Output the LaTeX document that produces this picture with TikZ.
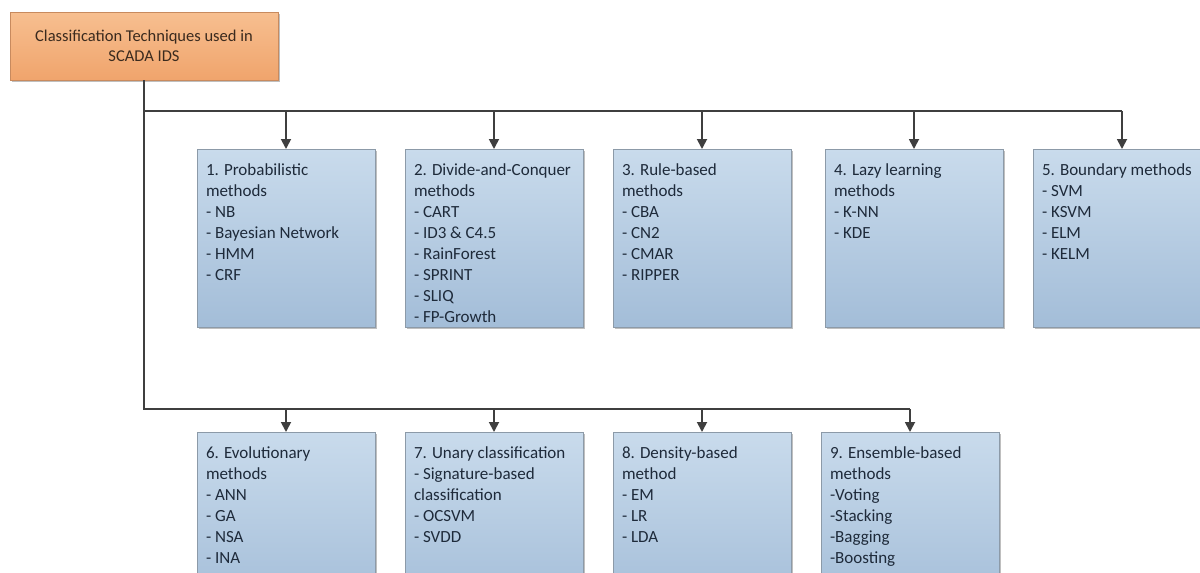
\documentclass[tikz,border=0pt]{standalone}
\usepackage{fontspec}
\setmainfont{Carlito}
\usetikzlibrary{shadows,arrows.meta}
\definecolor{boxtop}{HTML}{C9DBEC}
\definecolor{boxbot}{HTML}{A3BDD8}
\definecolor{boxline}{HTML}{8C9AA8}
\definecolor{roottop}{HTML}{F7BF90}
\definecolor{rootbot}{HTML}{F0A46C}
\definecolor{rootline}{HTML}{C88A5E}
\definecolor{roottext}{HTML}{3A2A1E}
\definecolor{boxtext}{HTML}{1E2A3A}
\definecolor{connc}{HTML}{3F3F3F}
\newcommand{\cellbox}[1]{\parbox[t][178pt][t]{160pt}{\vspace{12pt}\begin{tabular}[t]{@{}l@{}}#1\end{tabular}}}
\begin{document}
\begin{tikzpicture}[x=1pt,y=-1pt,
  catbox/.style={draw=boxline, line width=0.9pt, top color=boxtop, bottom color=boxbot,
    inner xsep=9pt, inner ysep=0pt, outer sep=0pt, anchor=north west,
    font=\fontsize{17}{21}\selectfont, text=boxtext,
    drop shadow={shadow xshift=2pt, shadow yshift=-2pt, opacity=0.25, fill=black}},
  rootbox/.style={draw=rootline, line width=0.9pt, top color=roottop, bottom color=rootbot,
    minimum width=268pt, minimum height=68pt, align=center, outer sep=0pt,
    font=\fontsize{16.5}{19.5}\selectfont, text=roottext,
    drop shadow={shadow xshift=2pt, shadow yshift=-2pt, opacity=0.25, fill=black}},
  conn/.style={draw=connc, line width=1.8pt},
  arr/.style={conn, -{Triangle[width=10pt,length=10pt]}}]
\useasboundingbox (0,0) rectangle (1200,573);
\fill[white] (0,0) rectangle (1200,573);

\node[rootbox] (root) at (144,46) {Classification Techniques used in\\SCADA IDS};

\node[catbox] (b1) at (197,149) {\cellbox{1. Probabilistic\\methods\\- NB\\- Bayesian Network\\- HMM\\- CRF}};
\node[catbox] (b2) at (405,149) {\cellbox{2. Divide-and-Conquer\\methods\\- CART\\- ID3 \& C4.5\\- RainForest\\- SPRINT\\- SLIQ\\- FP-Growth}};
\node[catbox] (b3) at (613,149) {\cellbox{3. Rule-based\\methods\\- CBA\\- CN2\\- CMAR\\- RIPPER}};
\node[catbox] (b4) at (825,149) {\cellbox{4. Lazy learning\\methods\\- K-NN\\- KDE}};
\node[catbox] (b5) at (1033,149) {\cellbox{5. Boundary methods\\- SVM\\- KSVM\\- ELM\\- KELM}};

\node[catbox] (b6) at (197,432) {\cellbox{6. Evolutionary\\methods\\- ANN\\- GA\\- NSA\\- INA}};
\node[catbox] (b7) at (405,432) {\cellbox{7. Unary classification\\- Signature-based\\classification\\- OCSVM\\- SVDD}};
\node[catbox] (b8) at (613,432) {\cellbox{8. Density-based\\method\\- EM\\- LR\\- LDA}};
\node[catbox] (b9) at (821,432) {\cellbox{9. Ensemble-based\\methods\\-Voting\\-Stacking\\-Bagging\\-Boosting}};

\coordinate (ht) at (0,111);
\coordinate (hb) at (0,409);

\draw[conn] (root.south) -- (root.south |- hb) -- (b9.north |- hb);
\draw[conn] (root.south |- ht) -- (b5.north |- ht);
\foreach \b in {b1,b2,b3,b4,b5} {
  \draw[arr] (\b.north |- ht) -- (\b.north);
}
\foreach \b in {b6,b7,b8,b9} {
  \draw[arr] (\b.north |- hb) -- (\b.north);
}
\end{tikzpicture}
\end{document}
